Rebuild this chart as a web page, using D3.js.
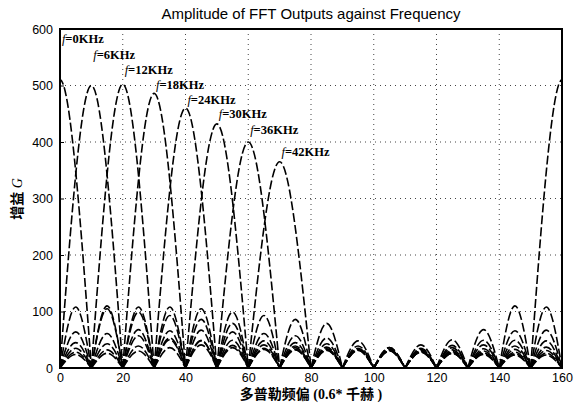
<!DOCTYPE html>
<html>
<head>
<meta charset="utf-8">
<script src="https://cdn.jsdelivr.net/npm/d3@7"></script>
<style>
  body { margin: 0; background: #fff; }
  .tick text { font-family: "Liberation Sans", Arial, sans-serif; font-size: 12.5px; fill: #000; }
</style>
</head>
<body>
<div id="chart"></div>
<script>
// signals (label, bin of main lobe, main lobe peak, value 5 bins off centre)
var signalLabels = ["0KHz", "6KHz", "12KHz", "18KHz", "24KHz", "30KHz", "36KHz", "42KHz"];
var centers = [0, 10, 20, 30, 40, 50, 60, 70];
var mainPeaks = [510, 500, 502, 486, 460, 432, 400, 365];
var mainHalf = [348, 342, 342, 332, 315, 295, 273, 248];
var labelLevels = [575, 547, 520, 494, 468, 442, 415, 375];

// side lobe peak per 10-bin interval [0-10, 10-20, ... 150-160], null = main lobe
var side0 = [null, 110, 68, 50, 41, 36, 33, 32, 32, 33, 36, 41, 50, 68, 110, null];
var side1 = [null, null, 108, 66, 49, 40, 35, 33, 31, 31, 33, 35, 40, 49, 66, 108];
var side2 = [108, null, null, 108, 67, 49, 41, 36, 33, 32, 32, 33, 36, 41, 49, 67];
var side3 = [64, 105, null, null, 105, 64, 48, 39, 34, 32, 31, 31, 32, 34, 39, 48];
var side4 = [45, 61, 99, null, null, 99, 61, 45, 37, 33, 30, 29, 29, 30, 33, 37];
var side5 = [35, 43, 57, 93, null, null, 93, 57, 43, 35, 31, 28, 27, 27, 28, 31];
var side6 = [28, 32, 39, 53, 86, null, null, 86, 53, 39, 32, 28, 26, 25, 25, 26];
var side7 = [24, 26, 30, 36, 48, 79, null, null, 79, 48, 36, 30, 26, 24, 23, 23];
var sideLobes = [side0, side1, side2, side3, side4, side5, side6, side7];

var xTicks = [0, 20, 40, 60, 80, 100, 120, 140, 160];
var yTicks = [0, 100, 200, 300, 400, 500, 600];

var svgWidth = 582;
var svgHeight = 407;
var plot = { left: 60, right: 562, top: 29, bottom: 368 };

var svg = d3.select("#chart")
  .append("svg")
  .attr("width", svgWidth)
  .attr("height", svgHeight);

var x = d3.scaleLinear().domain([0, 160]).range([plot.left, plot.right]);
var y = d3.scaleLinear().domain([0, 600]).range([plot.bottom, plot.top]);

svg.append("clipPath").attr("id", "clip")
  .append("rect")
  .attr("x", plot.left).attr("y", plot.top)
  .attr("width", plot.right - plot.left)
  .attr("height", plot.bottom - plot.top);

// dotted grid
var grid = svg.append("g").attr("stroke", "#444").attr("stroke-width", 1).attr("stroke-dasharray", "1,4");
grid.selectAll("line.gx")
  .data(xTicks.slice(1, -1))
  .enter().append("line")
  .attr("x1", d => x(d)).attr("x2", d => x(d))
  .attr("y1", plot.top).attr("y2", plot.bottom);
grid.selectAll("line.gy")
  .data(yTicks.slice(1, -1))
  .enter().append("line")
  .attr("x1", plot.left).attr("x2", plot.right)
  .attr("y1", d => y(d)).attr("y2", d => y(d));

// curves
var line = d3.line()
  .x(d => x(d[0]))
  .y(d => y(d[1]))
  .curve(d3.curveNatural);

var lobes = [];
centers.forEach(function(c, j) {
  [c - 160, c, c + 160].forEach(function(cc) {
    lobes.push([[cc - 10, 0], [cc - 5, mainHalf[j]], [cc, mainPeaks[j]], [cc + 5, mainHalf[j]], [cc + 10, 0]]);
  });
  sideLobes[j].forEach(function(h, i) {
    if (h === null) return;
    lobes.push([[i * 10, 0], [i * 10 + 5, h], [i * 10 + 10, 0]]);
  });
});

svg.append("g")
  .attr("clip-path", "url(#clip)")
  .selectAll("path")
  .data(lobes)
  .enter().append("path")
  .attr("d", line)
  .attr("fill", "none")
  .attr("stroke", "#000")
  .attr("stroke-width", 1.6)
  .attr("stroke-dasharray", "9,3");

// axes
var xAxis = d3.axisBottom(x).tickValues(xTicks).tickSizeInner(-4).tickSizeOuter(0).tickPadding(5);
var yAxis = d3.axisLeft(y).tickValues(yTicks).tickSizeInner(-4).tickSizeOuter(0).tickPadding(7);

svg.append("g")
  .attr("transform", `translate(0, ${plot.bottom})`)
  .call(xAxis)
  .call(g => g.select(".domain").remove());

svg.append("g")
  .attr("transform", `translate(${plot.left}, 0)`)
  .call(yAxis)
  .call(g => g.select(".domain").remove());

svg.append("rect")
  .attr("x", plot.left).attr("y", plot.top)
  .attr("width", plot.right - plot.left)
  .attr("height", plot.bottom - plot.top)
  .attr("fill", "none")
  .attr("stroke", "#000")
  .attr("stroke-width", 2);

// labels on the lobes
var lbl = svg.selectAll("text.flabel")
  .data(signalLabels)
  .enter().append("text")
  .attr("class", "flabel")
  .attr("x", (d, i) => x(centers[i] + 0.6))
  .attr("y", (d, i) => y(labelLevels[i]))
  .attr("font-family", "Liberation Serif, serif")
  .attr("font-size", 12.5)
  .attr("font-weight", 600);
lbl.append("tspan").attr("font-style", "italic").attr("font-weight", "normal").text("f");
lbl.append("tspan").text(d => "=" + d);

// title
svg.append("text")
  .attr("x", (plot.left + plot.right) / 2)
  .attr("y", 19)
  .attr("text-anchor", "middle")
  .attr("font-family", "Liberation Sans, Arial, sans-serif")
  .attr("font-size", 15)
  .text("Amplitude of FFT Outputs against Frequency");

// axis titles
svg.append("text")
  .attr("x", 311)
  .attr("y", 399)
  .attr("text-anchor", "middle")
  .attr("font-family", "Liberation Serif, Noto Sans CJK SC, serif")
  .attr("font-size", 14)
  .attr("font-weight", "bold")
  .text("多普勒频偏 (0.6* 千赫 )");

var yt = svg.append("text")
  .attr("transform", "translate(22, 199) rotate(-90)")
  .attr("text-anchor", "middle")
  .attr("font-family", "Liberation Serif, Noto Sans CJK SC, serif")
  .attr("font-size", 14)
  .attr("font-weight", "bold");
yt.append("tspan").text("增益 ");
yt.append("tspan").attr("font-style", "italic").attr("font-weight", "normal").text("G");
</script>
</body>
</html>
